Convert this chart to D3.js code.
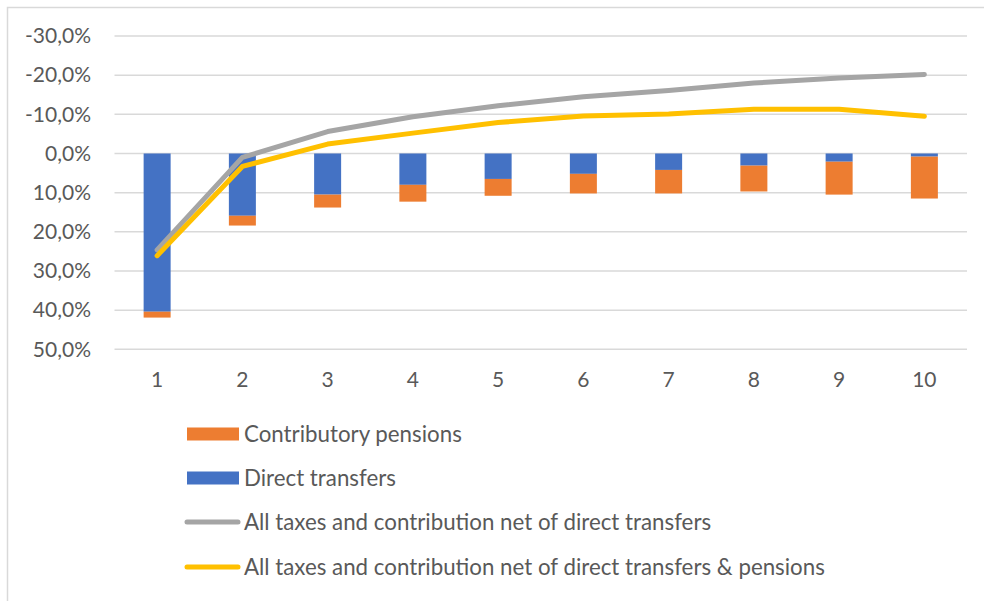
<!DOCTYPE html>
<html><head><meta charset="utf-8">
<script src="https://cdn.jsdelivr.net/npm/d3@7"></script>
<style>body{margin:0;background:#fff}svg{display:block}</style>
</head><body>
<script>
const categories = ["1","2","3","4","5","6","7","8","9","10"];
const directTransfers = [40.4, 15.9, 10.5, 8.0, 6.5, 5.2, 4.2, 3.1, 2.1, 0.8];
const contributoryPensions = [1.5, 2.5, 3.3, 4.3, 4.3, 5.0, 6.0, 6.6, 8.4, 10.7];
const netDirect = [24.6, 1.0, -5.6, -9.4, -12.2, -14.5, -16.1, -18.0, -19.3, -20.2];
const netDirectPensions = [26.1, 3.3, -2.4, -5.2, -7.9, -9.6, -10.1, -11.3, -11.3, -9.5];
const yTicks = [-30, -20, -10, 0, 10, 20, 30, 40, 50];
const legendLabels = ["Contributory pensions", "Direct transfers",
  "All taxes and contribution net of direct transfers",
  "All taxes and contribution net of direct transfers & pensions"];

const W = 984, H = 601;
const svg = d3.select("body").append("svg").attr("width", W).attr("height", H);
svg.append("rect").attr("x", 7.5).attr("y", 7.5).attr("width", 1000).attr("height", 1000)
  .attr("fill", "#fff").attr("stroke", "#d9d9d9").attr("stroke-width", 1.5);

const x = d3.scaleBand().domain(categories).range([114.5, 967]).paddingInner(0).paddingOuter(0);
const y = d3.scaleLinear().domain([-30, 50]).range([36, 349.3]);
const font = "Lato, 'Open Sans', sans-serif";
const textColor = "#595959";

// grid
svg.append("g").selectAll("line").data(yTicks).join("line")
  .attr("x1", x.range()[0]).attr("x2", x.range()[1])
  .attr("y1", d => y(d)).attr("y2", d => y(d))
  .attr("stroke", "#d9d9d9").attr("stroke-width", 1.5);

// y axis labels
const fmt = d => d.toFixed(1).replace(".", ",") + "%";
const yAxis = d3.axisLeft(y).tickValues(yTicks).tickFormat(fmt).tickSize(0).tickPadding(0);
const ya = svg.append("g").attr("transform", "translate(91,0)").call(yAxis);
ya.select(".domain").remove();
ya.selectAll("text").attr("font-family", font).attr("font-size", 21).attr("fill", textColor);

// x axis labels
const xAxis = d3.axisBottom(x).tickSize(0).tickPadding(0);
const xa = svg.append("g").attr("transform", "translate(0,380)").call(xAxis);
xa.select(".domain").remove();
xa.selectAll("text").attr("font-family", font).attr("font-size", 21).attr("fill", textColor).attr("dy", "0.35em");

// bars
const barW = 27;
const cx = d => x(d) + x.bandwidth() / 2;
svg.append("g").selectAll("rect").data(categories).join("rect")
  .attr("x", d => cx(d) - barW / 2).attr("width", barW)
  .attr("y", (d, i) => y(0)).attr("height", (d, i) => y(directTransfers[i]) - y(0))
  .attr("fill", "#4472C4");
svg.append("g").selectAll("rect").data(categories).join("rect")
  .attr("x", d => cx(d) - barW / 2).attr("width", barW)
  .attr("y", (d, i) => y(directTransfers[i]))
  .attr("height", (d, i) => y(directTransfers[i] + contributoryPensions[i]) - y(directTransfers[i]))
  .attr("fill", "#ED7D31");

// lines
const line = d3.line().x((d, i) => cx(categories[i])).y(d => y(d));
svg.append("path").attr("d", line(netDirect)).attr("fill", "none")
  .attr("stroke", "#A5A5A5").attr("stroke-width", 5).attr("stroke-linecap", "round").attr("stroke-linejoin", "round");
svg.append("path").attr("d", line(netDirectPensions)).attr("fill", "none")
  .attr("stroke", "#FFC000").attr("stroke-width", 5).attr("stroke-linecap", "round").attr("stroke-linejoin", "round");

// legend
const lg = svg.append("g");
const rowY = [434, 478, 522, 567];
const swatch = [
  {type: "rect", color: "#ED7D31"}, {type: "rect", color: "#4472C4"},
  {type: "line", color: "#A5A5A5"}, {type: "line", color: "#FFC000"}];
legendLabels.forEach((lab, i) => {
  const s = swatch[i];
  if (s.type === "rect") {
    lg.append("rect").attr("x", 187).attr("y", rowY[i] - 6.5).attr("width", 52).attr("height", 13).attr("fill", s.color);
  } else {
    lg.append("line").attr("x1", 187).attr("x2", 238).attr("y1", rowY[i]).attr("y2", rowY[i])
      .attr("stroke", s.color).attr("stroke-width", 5).attr("stroke-linecap", "round");
  }
  lg.append("text").attr("x", 244).attr("y", rowY[i]).attr("dy", "0.35em")
    .attr("font-family", font).attr("font-size", 22.3).attr("fill", textColor).text(lab);
});
</script>
</body></html>
